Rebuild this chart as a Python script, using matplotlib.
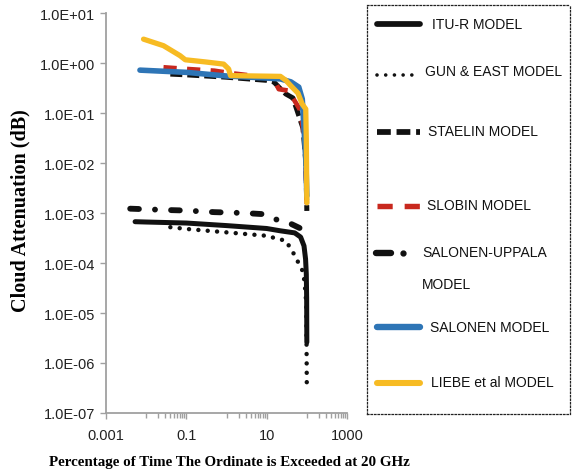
import numpy as np
import matplotlib.pyplot as plt

# ---- data ----
itu_x = [0.0053, 0.01, 0.1, 1, 10, 22, 50, 70, 85, 93, 97, 99, 100]
itu_y = [6.7e-4, 6.6e-4, 6.3e-4, 5.6e-4, 4.9e-4, 4.4e-4, 4.0e-4, 3.3e-4,
         2.2e-4, 1.2e-4, 6e-5, 2e-5, 2.6e-6]

gun_x = [0.04, 0.1, 1, 10, 20, 30, 48, 78, 88, 97, 100]
gun_y = [5.2e-4, 4.8e-4, 4.1e-4, 3.5e-4, 3.0e-4, 2.8e-4, 1.5e-4, 7e-5,
         4.2e-5, 1.5e-5, 2.8e-7]

stae_x = [0.04, 0.1, 1, 10, 15, 20, 30, 45, 60, 80, 95, 100]
stae_y = [0.6, 0.58, 0.52, 0.45, 0.42, 0.33, 0.24, 0.2, 0.1, 0.05, 0.01, 1.1e-3]

slob_x = [0.027, 0.1, 0.5, 1.2, 5, 15, 20, 35, 45, 66, 90, 100]
slob_y = [0.82, 0.76, 0.70, 0.63, 0.55, 0.48, 0.3, 0.28, 0.2, 0.12, 0.03, 1.4e-3]

su_x = [0.004, 0.03, 0.1, 0.5, 2.7, 8, 12, 20, 30, 70, 94]
su_y = [1.22e-3, 1.15e-3, 1.12e-3, 1.04e-3, 1.0e-3, 9.5e-4, 8.0e-4, 7.2e-4,
        6.8e-4, 4.9e-4, 3.2e-4]

sal_x = [0.007, 0.1, 1, 10, 22, 40, 63, 77, 86, 95, 100]
sal_y = [0.72, 0.65, 0.55, 0.5, 0.48, 0.42, 0.33, 0.19, 0.042, 0.01, 2.2e-3]

lie_x = [0.0086, 0.027, 0.07, 0.094, 0.3, 0.85, 1.13, 1.26, 5, 22, 30, 40,
         60, 77, 94, 97, 100]
lie_y = [3.0, 2.22, 1.4, 1.16, 1.05, 0.95, 0.76, 0.56, 0.55, 0.54, 0.45, 0.35,
         0.25, 0.15, 0.12, 0.03, 1.6e-3]

xticks = [0.001, 0.1, 10, 1000]
xticklabels = ['0.001', '0.1', '10', '1000']
yticks = [10.0 ** e for e in range(-7, 2)]

labels = ['ITU-R MODEL', 'GUN & EAST MODEL', 'STAELIN MODEL', 'SLOBIN MODEL',
          'SALONEN-UPPALA\n\nMODEL', 'SALONEN MODEL', 'LIEBE et al MODEL']

# ---- styles ----
blk = '#111111'
red = '#c8281e'
blue = '#2e75b6'
yel = '#f7bb23'
styles = [
    dict(color=blk, lw=3.6, ls='-', solid_capstyle='round'),
    dict(color=blk, lw=3.2, ls=(0, (0.01, 2.1)), dash_capstyle='round'),
    dict(color=blk, lw=3.6, ls=(0, (2.4, 1.0))),
    dict(color=red, lw=3.4, ls=(0, (2.8, 2.2))),
    dict(color=blk, lw=4.2, ls=(0, (1.5, 2.75, 0.01, 2.75)), dash_capstyle='round'),
    dict(color=blue, lw=4.0, ls='-', solid_capstyle='round'),
    dict(color=yel, lw=3.8, ls='-', solid_capstyle='round'),
]

W, H = 572, 477
fig = plt.figure(figsize=(W / 100, H / 100), dpi=100)
ax = fig.add_axes([106 / W, 1 - 414 / H, (347 - 106) / W, 400 / H])

series = [(itu_x, itu_y), (gun_x, gun_y), (stae_x, stae_y), (slob_x, slob_y),
          (su_x, su_y), (sal_x, sal_y), (lie_x, lie_y)]
for (xs, ys), st in zip(series, styles):
    ax.plot(xs, ys, **st)

ax.set_xscale('log')
ax.set_yscale('log')
ax.set_xlim(0.001, 1000)
ax.set_ylim(1e-7, 10)
ax.set_xticks(xticks)
ax.set_xticklabels(xticklabels)
ax.set_xticks([k * 10.0 ** e for e in (-2, 0, 2) for k in range(1, 10)], minor=True)
ax.set_yticks(yticks)
ax.set_yticklabels(['%.1E' % v for v in yticks])
ax.yaxis.set_minor_locator(plt.NullLocator())
ax.xaxis.set_minor_formatter(plt.NullFormatter())

for s in ['top', 'right']:
    ax.spines[s].set_visible(False)
for s in ['left', 'bottom']:
    ax.spines[s].set_color('#a0a0a0')
    ax.spines[s].set_linewidth(1.3)
ax.tick_params(which='both', color='#a0a0a0', width=1.0, labelcolor='#222222')
ax.tick_params(axis='y', which='major', length=4.5, pad=3.5)
ax.tick_params(axis='x', which='major', length=4, pad=7)
ax.tick_params(axis='x', which='minor', length=3.5)
for lab in ax.get_xticklabels() + ax.get_yticklabels():
    lab.set_fontfamily('Liberation Sans')
    lab.set_fontsize(10.5)

fig.text(20 / W, 1 - 210.5 / H, 'Cloud Attenuation (dB)', rotation=90,
         ha='center', va='center', family='Liberation Serif', weight='bold',
         fontsize=14.5)
fig.text(229 / W, 1 - 463 / H, 'Percentage of Time The Ordinate is Exceeded at 20 GHz',
         ha='center', va='center', family='Liberation Serif', weight='bold',
         fontsize=10.8)

# ---- legend box (pixel coordinates) ----
L, R, T, B = 367, 570, 6, 415
lg = fig.add_axes([L / W, 1 - B / H, (R - L) / W, (B - T) / H])
lg.set_xlim(L, R)
lg.set_ylim(B, T)
lg.set_xticks([])
lg.set_yticks([])
lg.patch.set_alpha(0)
for s in lg.spines.values():
    s.set_linestyle((0, (1.2, 1.6)))
    s.set_linewidth(0.9)
    s.set_color('#222222')

row_y = [25, 76, 133, 207, 254, 328, 384]
text_x = [432, 425, 428, 427, 422, 430, 431]
text_y = [25, 72, 132, 206, 269, 328, 383]
for i, st in enumerate(styles):
    st2 = dict(st)
    st2['lw'] = st['lw'] * 1.15
    if i == 1:
        st2['lw'] = 2.6
        st2['ls'] = (0, (0.01, 2.4))
    if i == 4:
        lg.plot([376, 391], [row_y[i], row_y[i]], color=blk, lw=4.6,
                solid_capstyle='round')
        lg.plot([403], [row_y[i]], 'o', color=blk, ms=3.5)
    else:
        lg.plot([377, 420], [row_y[i], row_y[i]], **st2)
    lg.text(text_x[i], text_y[i], labels[i], ha='left', va='center',
            family='Liberation Sans', fontsize=10, color='#111111',
            linespacing=1.15)

fig.savefig('out.png', dpi=100)
